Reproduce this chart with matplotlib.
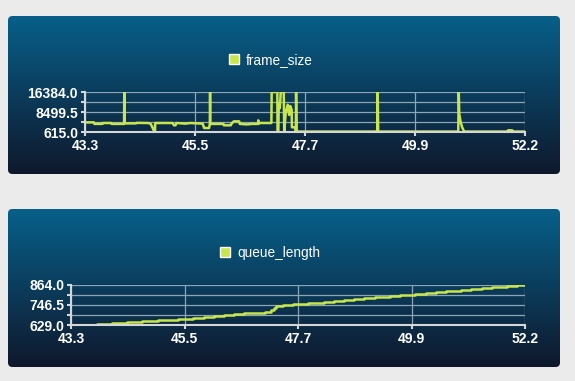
import numpy as np
import matplotlib
matplotlib.use("Agg")
import matplotlib.pyplot as plt
from matplotlib.patches import FancyBboxPatch, Patch
from matplotlib.colors import LinearSegmentedColormap

# ---- data ----
frame_t = [43.27, 43.45, 43.46, 43.62, 43.63, 43.80, 43.81, 44.06, 44.065, 44.07,
           44.30, 44.31, 44.55, 44.60, 44.67, 44.685, 44.69, 45.04, 45.07, 45.10,
           45.12, 45.30, 45.40, 45.65, 45.68, 45.78, 45.795, 45.80, 45.805, 46.07,
           46.08, 46.22, 46.23, 46.28, 46.39, 46.40, 46.55, 46.65, 46.77, 46.775,
           46.78, 46.80, 47.04, 47.046, 47.16, 47.165, 47.18, 47.19, 47.21, 47.23,
           47.29, 47.30, 47.33, 47.37, 47.40, 47.42, 47.45, 47.455, 47.53, 47.535,
           47.54, 47.55, 49.18, 49.19, 49.20, 50.82, 50.83, 50.84, 50.87, 50.90,
           50.94, 51.82, 51.83, 51.91, 51.92, 52.17]
frame_size = [4500, 4500, 3900, 3900, 4250, 4250, 3900, 3900, 16384, 4100,
              4100, 4300, 4250, 3900, 1000, 1000, 4250, 4250, 3350, 3350,
              4250, 4000, 4250, 4000, 2300, 2300, 3900, 16384, 3900, 3900,
              3350, 3350, 3900, 4900, 4900, 3900, 3700, 3900, 3900, 5300,
              3900, 4250, 4250, 16384, 16384, 700, 700, 12000, 10000, 16384,
              16384, 700, 8200, 11400, 7400, 10900, 9500, 2570, 2570, 1000,
              16384, 900, 900, 16384, 900, 900, 16384, 7800, 4500, 2500,
              900, 900, 1400, 1400, 900, 900]

queue_t = [43.27, 43.37, 43.47, 43.57, 43.67, 43.77, 43.87, 43.97, 44.07, 44.17,
           44.27, 44.37, 44.47, 44.57, 44.67, 44.77, 44.87, 44.97, 45.07, 45.17,
           45.27, 45.37, 45.47, 45.57, 45.67, 45.77, 45.87, 45.97, 46.07, 46.17,
           46.27, 46.37, 46.47, 46.57, 46.67, 46.77, 46.87, 46.97, 47.07, 47.14,
           47.19, 47.24, 47.29, 47.34, 47.42, 47.52, 47.62, 47.72, 47.82, 47.92,
           48.02, 48.12, 48.22, 48.32, 48.42, 48.52, 48.62, 48.72, 48.82, 48.92,
           49.02, 49.12, 49.22, 49.32, 49.42, 49.52, 49.62, 49.72, 49.82, 49.92,
           50.02, 50.12, 50.22, 50.32, 50.42, 50.52, 50.62, 50.72, 50.82, 50.92,
           51.02, 51.12, 51.22, 51.32, 51.42, 51.52, 51.62, 51.72, 51.82, 51.92,
           52.02, 52.17]
queue_length = [629, 630, 631, 633, 633, 635, 637, 638, 641, 643,
                645, 646, 648, 650, 652, 654, 656, 657, 659, 660,
                662, 664, 666, 667, 670, 672, 676, 679, 683, 685,
                688, 690, 693, 695, 698, 699, 701, 703, 706, 707,
                716, 728, 740, 742, 746, 749, 750, 752, 753, 756,
                757, 760, 762, 764, 767, 770, 774, 777, 780, 782,
                785, 787, 790, 793, 795, 797, 800, 802, 805, 807,
                810, 812, 814, 817, 820, 822, 825, 828, 830, 832,
                835, 838, 841, 843, 846, 848, 851, 853, 856, 858,
                860, 862]

x_range = (43.27, 52.17)
x_labels = ["43.3", "45.5", "47.7", "49.9", "52.2"]

LIME = "#c8e64c"
AXIS = "#d6d6d6"
GRID = "#8ca6b8"

plt.rcParams["font.family"] = ["Liberation Sans", "DejaVu Sans"]

fig = plt.figure(figsize=(5.75, 3.81), dpi=100, facecolor="#ebebeb")
cmap = LinearSegmentedColormap.from_list("panel", ["#07608a", "#0f182c"])


def panel(bottom):
    bg = fig.add_axes([8 / 575, bottom, 552 / 575, 158 / 381])
    bg.set_axis_off()
    grad = np.linspace(0, 1, 256).reshape(-1, 1)
    im = bg.imshow(grad, aspect="auto", cmap=cmap, extent=[0, 1, 0, 1], origin="upper")
    box = FancyBboxPatch((0, 0), 1, 1, boxstyle="round,pad=0,rounding_size=0.008",
                         mutation_aspect=552 / 158, transform=bg.transAxes,
                         facecolor="none", edgecolor="none")
    bg.add_patch(box)
    im.set_clip_path(box)
    bg.set_xlim(0, 1)
    bg.set_ylim(0, 1)


def chart(rect, t, v, lo, hi, name, legend_xy, steps):
    ax = fig.add_axes(rect)
    ax.set_facecolor("none")
    ax.plot(t, v, color=LIME, lw=1.8, zorder=3,
            drawstyle="steps-post" if steps else "default")
    ax.set_xlim(*x_range)
    ax.set_ylim(lo, hi)
    ax.set_xticks(np.linspace(x_range[0], x_range[1], 5))
    ax.set_xticklabels(x_labels)
    ax.set_yticks([lo, (lo + hi) / 2, hi])
    ax.set_yticklabels([f"{lo:.1f}", f"{(lo + hi) / 2:.1f}", f"{hi:.1f}"])
    ax.set_yticks([lo + (hi - lo) * 0.25, lo + (hi - lo) * 0.75], minor=True)
    for s in ["top", "right"]:
        ax.spines[s].set_visible(False)
    for s in ["left", "bottom"]:
        ax.spines[s].set_color(AXIS)
        ax.spines[s].set_linewidth(1.5)
        ax.spines[s].set_zorder(4)
    ax.grid(True, which="major", axis="both", color=GRID, lw=0.9)
    ax.grid(True, which="minor", axis="y", color=GRID, lw=0.9)
    ax.set_axisbelow(True)
    ax.tick_params(which="both", direction="out", length=3, width=1.5, color=AXIS,
                   labelcolor="white", labelsize=10)
    ax.tick_params(axis="x", pad=2)
    ax.tick_params(axis="y", pad=2)
    for lab in ax.get_xticklabels() + ax.get_yticklabels():
        lab.set_fontweight("bold")
    handle = Patch(facecolor=LIME, edgecolor="white", linewidth=1)
    fig.legend([handle], [name], loc="center", bbox_to_anchor=legend_xy,
               frameon=False, fontsize=9.8, handlelength=0.75, handleheight=0.75,
               handletextpad=0.5, labelcolor="white")
    return ax


panel(1 - 174 / 381)
panel(1 - 367 / 381)

chart([85 / 575, 1 - 132.3 / 381, 440 / 575, 40.3 / 381], frame_t, frame_size,
      615.0, 16384.0, "frame_size", (271 / 575, 1 - 60 / 381), False)
chart([71 / 575, 1 - 325.3 / 381, 454 / 575, 40.6 / 381], queue_t, queue_length,
      629.0, 864.0, "queue_length", (270 / 575, 1 - 252.7 / 381), True)

fig.savefig("out.png", dpi=100, facecolor=fig.get_facecolor())
